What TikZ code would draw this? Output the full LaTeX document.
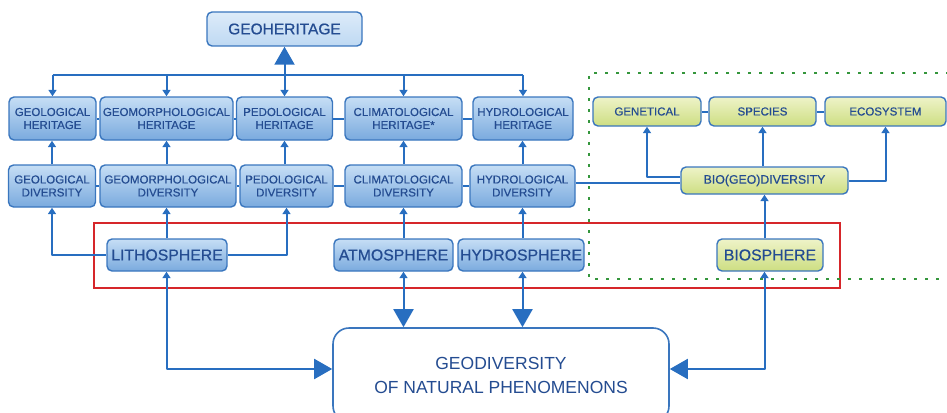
\documentclass[tikz,border=0pt]{standalone}
\usepackage{fontspec}
\setmainfont{Liberation Sans}
\newfontfamily\heavy{Liberation Sans}[FakeBold=0.6]
\usetikzlibrary{arrows.meta}
\definecolor{cl}{RGB}{40,110,192}
\definecolor{bord}{RGB}{58,118,190}
\definecolor{txt}{RGB}{36,76,145}
\definecolor{bt}{RGB}{198,222,245}
\definecolor{bb}{RGB}{122,170,222}
\definecolor{gt}{RGB}{238,243,200}
\definecolor{gb}{RGB}{205,222,130}
\definecolor{redf}{RGB}{214,38,42}
\definecolor{greenf}{RGB}{52,150,60}
\tikzset{
  bluebox/.style={draw=bord, line width=1.4pt, rounded corners=5pt, top color=bt, bottom color=bb,
    text=txt, align=center, inner sep=0pt, font=\heavy\fontsize{11.5}{13}\selectfont},
  greenbox/.style={bluebox, top color=gt, bottom color=gb},
  sphere/.style={bluebox, font=\heavy\fontsize{15.8}{18}\selectfont},
  conn/.style={draw=cl, line width=2pt, line join=round},
  sar/.style={conn, -{Triangle[width=8pt,length=6.5pt]}},
  bar/.style={conn, -{Triangle[width=20pt,length=18pt]}},
  dbl/.style={conn, {Triangle[width=8pt,length=6.5pt]}-{Triangle[width=20pt,length=18pt]}},
}
\begin{document}
\begin{tikzpicture}[x=1pt,y=-1pt]
\useasboundingbox (0,0) rectangle (947,412);
\clip (0,0) rectangle (947,412);
% frames
\draw[redf, line width=1.6pt] (94,223) rectangle (840,288);
\draw[greenf, line width=2.5pt, dash pattern=on 3pt off 8pt] (960,73) -- (589,73) -- (589,279) -- (960,279);
% top
\node[bluebox, top color=bt!60!white, bottom color=bt!90!bb, font=\heavy\fontsize{15.5}{17}\selectfont, minimum width=155pt, minimum height=34pt] (geo) at (284.5,29) {GEOHERITAGE};
% heritage row
\node[bluebox, minimum width=87pt, minimum height=43pt] (gh) at (52.5,118.5) {GEOLOGICAL\\HERITAGE};
\node[bluebox, minimum width=133pt, minimum height=43pt] (mh) at (166.5,118.5) {GEOMORPHOLOGICAL\\HERITAGE};
\node[bluebox, minimum width=96pt, minimum height=43pt] (ph) at (284.5,118.5) {PEDOLOGICAL\\HERITAGE};
\node[bluebox, minimum width=117pt, minimum height=43pt] (ch) at (403.5,118.5) {CLIMATOLOGICAL\\HERITAGE*};
\node[bluebox, minimum width=100pt, minimum height=43pt] (hh) at (523,118.5) {HYDROLOGICAL\\HERITAGE};
% diversity row
\node[bluebox, minimum width=87pt, minimum height=42pt] (gd) at (52,186) {GEOLOGICAL\\DIVERSITY};
\node[bluebox, minimum width=136pt, minimum height=42pt] (md) at (168,186) {GEOMORPHOLOGICAL\\DIVERSITY};
\node[bluebox, minimum width=93pt, minimum height=42pt] (pd) at (286.5,186) {PEDOLOGICAL\\DIVERSITY};
\node[bluebox, minimum width=117pt, minimum height=42pt] (cd) at (403.5,186) {CLIMATOLOGICAL\\DIVERSITY};
\node[bluebox, minimum width=105pt, minimum height=42pt] (hd) at (522.5,186) {HYDROLOGICAL\\DIVERSITY};
% bio row
\node[greenbox, minimum width=108pt, minimum height=29pt] (gen) at (647,111.5) {GENETICAL};
\node[greenbox, minimum width=107pt, minimum height=29pt] (spe) at (762.5,111.5) {SPECIES};
\node[greenbox, minimum width=121pt, minimum height=29pt] (eco) at (885.5,111.5) {ECOSYSTEM};
\node[greenbox, font=\heavy\fontsize{12.3}{13}\selectfont, minimum width=167pt, minimum height=27pt] (bio) at (764.5,180.5) {BIO(GEO)DIVERSITY};
% spheres
\node[sphere, minimum width=120pt, minimum height=32pt] (lit) at (167,255) {LITHOSPHERE};
\node[sphere, minimum width=119pt, minimum height=32pt] (atm) at (393.5,255) {ATMOSPHERE};
\node[sphere, minimum width=126pt, minimum height=32pt] (hyd) at (521,255) {HYDROSPHERE};
\node[sphere, top color=gt, bottom color=gb, minimum width=106pt, minimum height=32pt] (bsp) at (770,255) {BIOSPHERE};
% geodiversity
\node[draw=bord, line width=1.6pt, rounded corners=16pt, fill=white, minimum width=336pt, minimum height=94pt,
  align=center, text=txt, font=\fontsize{17.5}{24}\selectfont] (geod) at (501,375) {GEODIVERSITY\\OF NATURAL PHENOMENONS};
% bus to heritage
\coordinate (busy) at (0,75);
\draw[conn] (gh.north |- busy) -- (hh.north |- busy);
\foreach \n in {gh,mh,ph,ch,hh} \draw[sar] (\n.north |- busy) -- (\n.north);
\draw[bar] (ph.north |- busy) -- (geo.south);
% horizontal links
\draw[conn] (gh) -- (mh); \draw[conn] (mh) -- (ph); \draw[conn] (ph) -- (ch); \draw[conn] (ch) -- (hh);
\draw[conn] (gd) -- (md); \draw[conn] (md) -- (pd); \draw[conn] (pd) -- (cd); \draw[conn] (cd) -- (hd);
\draw[conn] (gen) -- (spe); \draw[conn] (spe) -- (eco);
\draw[conn] ([yshift=3pt]hd.east) -- ([yshift=3pt]hd.east -| bio.west);
% diversity -> heritage
\draw[sar] (gd.north) -- (gd.north |- gh.south);
\draw[sar] (md.north -| mh.south) -- (mh.south);
\draw[sar] (pd.north -| ph.south) -- (ph.south);
\draw[sar] (cd.north) -- (cd.north |- ch.south);
\draw[sar] (hd.north) -- (hd.north |- hh.south);
% bio
\draw[sar] ([yshift=3.5pt]bio.west) -| (gen.south);
\draw[sar] (bio.north -| spe.south) -- (spe.south);
\draw[sar] (bio.east) -| (eco.south);
% spheres up
\draw[sar] (lit.west) -| (gd.south);
\draw[sar] (lit.north -| mh.south) -- (md.south -| mh.south);
\draw[sar] (lit.east) -| (pd.south);
\draw[sar] (atm.north -| cd.south) -- (cd.south);
\draw[sar] (hyd.north -| hd.south) -- (hd.south);
\draw[sar] (bsp.north -| bio.south) -- (bio.south);
% spheres down
\draw[dbl] (lit.south -| mh.south) |- ([yshift=6pt]geod.west);
\draw[dbl] (atm.south -| cd.south) -- (geod.north -| cd.south);
\draw[dbl] (hyd.south -| hd.south) -- (geod.north -| hd.south);
\draw[dbl] (bsp.south -| bio.south) |- ([yshift=6pt]geod.east);
\end{tikzpicture}
\end{document}
